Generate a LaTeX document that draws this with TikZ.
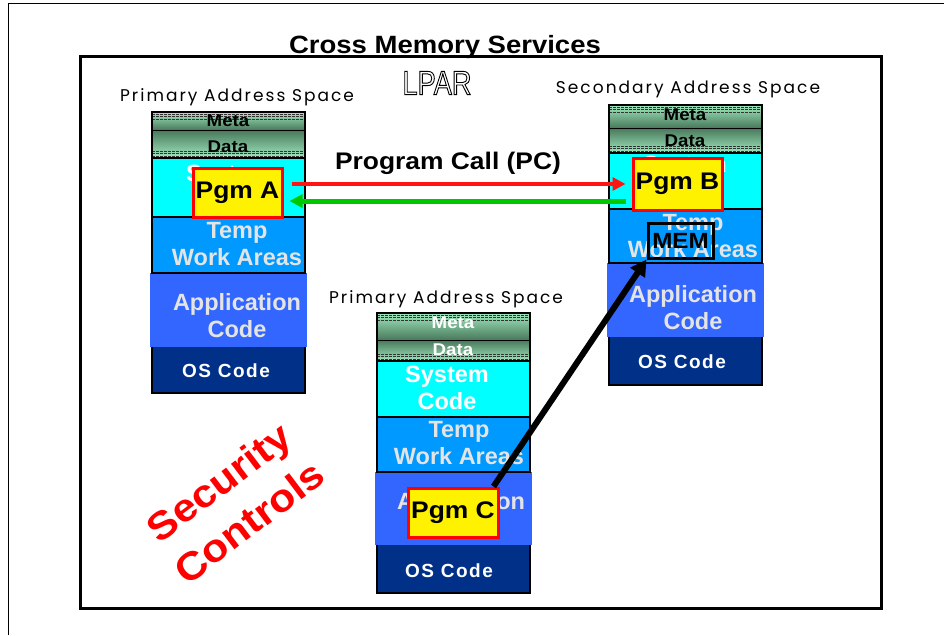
\documentclass[tikz,border=0pt]{standalone}
\usepackage{fontspec}
\setmainfont{Liberation Sans}
\newfontfamily\labelfont[LetterSpace=12]{Poppins}
\newfontfamily\lparfont[FakeStretch=0.8]{Liberation Sans}
\newfontfamily\heavy[FakeStretch=1.1]{Liberation Sans}
\usetikzlibrary{arrows.meta}
\definecolor{mdlight}{RGB}{160,232,190}
\definecolor{mddark}{RGB}{72,120,90}
\definecolor{syscol}{RGB}{0,255,255}
\definecolor{tempcol}{RGB}{0,153,255}
\definecolor{appcol}{RGB}{51,102,255}
\definecolor{oscol}{RGB}{0,48,135}
\definecolor{txtgray}{RGB}{228,228,228}
\definecolor{arrred}{RGB}{255,20,20}
\definecolor{arrgreen}{RGB}{0,200,0}
\newcommand{\addrcol}[9]{%
  % #1 x0, #2 x1, #3 top, #4 meta/data sep, #5 sys top, #6 temp top, #7 app top, #8 os top, #9 bottom
  \shade[top color=mdlight, bottom color=mddark] (#1,#3) rectangle (#2,#4);
  \shade[top color=mddark, bottom color=mdlight] (#1,#4) rectangle (#2,#5);
  \foreach \d in {2,4.5,7}{
    \draw[stripe] ({#1},{#3+\d}) -- ({#2},{#3+\d});
    \draw[stripe] ({#1},{#5-\d}) -- ({#2},{#5-\d});
  }
  \draw[line width=0.8pt] (#1,#4) -- (#2,#4);
  \fill[syscol] (#1,#5) rectangle (#2,#6);
  \fill[tempcol] (#1,#6) rectangle (#2,#7);
  \fill[appcol] ({#1-2},#7) rectangle ({#2+2},#8);
  \fill[oscol] (#1,#8) rectangle (#2,#9);
  \draw[colborder] (#1,#5) -- (#2,#5);
  \draw[colborder] (#1,#6) -- (#2,#6);
  \draw[colborder] (#1,#3) rectangle (#2,#7);
  \draw[colborder] (#1,#8) -- (#1,#9) -- (#2,#9) -- (#2,#8);
}
\newcommand{\outlinetext}[1]{\special{pdf:literal direct 1 Tr 0.9 w}#1\special{pdf:literal direct 0 Tr}}
\begin{document}
\begin{tikzpicture}[x=1pt,y=-1pt,
  stripe/.style={black!80, line width=0.5pt, dash pattern=on 3pt off 1pt},
  colborder/.style={black, line width=1.6pt},
  mdtext/.style={font=\heavy\bfseries\fontsize{17}{17}\selectfont, inner sep=0},
  secttext/.style={font=\bfseries\fontsize{23.5}{27}\selectfont, align=center, inner sep=0},
  ostext/.style={font=\addfontfeatures{LetterSpace=8}\bfseries\fontsize{19}{19}\selectfont, inner sep=0, text=white},
  spacelabel/.style={font=\labelfont\fontsize{17}{17}\selectfont, inner sep=0},
  pgm/.style={draw=red, line width=3pt, fill=yellow, inner sep=0,
    font=\heavy\bfseries\fontsize{24}{24}\selectfont},
  memstyle/.style={draw=black, line width=3pt, inner sep=0,
    font=\heavy\bfseries\fontsize{22}{22}\selectfont},
  pcarrow/.style={line width=4pt, -{Triangle[length=13pt,width=13pt]}},
  memarrow/.style={line width=6pt, -{Triangle[length=16pt,width=17pt]}}
]
\useasboundingbox (0,0) rectangle (944,635);
\fill[white] (0,0) rectangle (944,635);
% outer frame
\draw[line width=1pt] (8,635) -- (8,3.5) -- (944,3.5);
% LPAR frame
\draw[line width=3pt] (80,56) rectangle (881,608);

\node[font=\heavy\bfseries\fontsize{25}{25}\selectfont, inner sep=0, anchor=base] (title) at (445,53) {Cross Memory Services};
\node[font=\lparfont\fontsize{34}{34}\selectfont, inner sep=0] (lpar) at (437,83) {\outlinetext{LPAR}};

% column 1 : primary (top left)
\addrcol{152}{305}{112}{130}{158}{217}{273}{347}{393}
\node[spacelabel] (lab1) at (237,97) {Primary Address Space};
\node[mdtext] (meta1) at (228,121) {Meta};
\node[mdtext] (data1) at (228,147) {Data};
\node[secttext, text=white] (sys1) at (228,187) {System\\Code};
\node[secttext, text=txtgray] (temp1) at (237,244) {Temp\\Work Areas};
\node[secttext, text=txtgray] (app1) at (237,316) {Application\\Code};
\node[ostext] (os1) at (226,371) {OS Code};

% column 2 : secondary
\addrcol{609}{762}{105}{128}{153}{209}{263}{337}{385}
\node[spacelabel] (lab2) at (688,89) {Secondary Address Space};
\node[mdtext] (meta2) at (685,115) {Meta};
\node[mdtext] (data2) at (685,141) {Data};
\node[secttext, text=white] (sys2) at (685,178) {System\\Code};
\node[secttext, text=txtgray] (temp2) at (693,236) {Temp\\Work Areas};
\node[secttext, text=txtgray] (app2) at (693,308) {Application\\Code};
\node[ostext] (os2) at (682,362) {OS Code};

% column 3 : primary (middle)
\addrcol{377}{530}{313}{340}{361}{417}{472}{545}{593}
\node[spacelabel] (lab3) at (446,299) {Primary Address Space};
\node[mdtext, text=white] (meta3) at (453,323) {Meta};
\node[mdtext, text=white] (data3) at (453,350) {Data};
\node[secttext, text=white] (sys3) at (447,388) {System\\Code};
\node[secttext, text=txtgray] (temp3) at (459,443) {Temp\\Work Areas};
\node[secttext, text=txtgray] (app3) at (461,515) {Application\\Code};
\node[ostext] (os3) at (449,571) {OS Code};

% programs
\node[pgm, minimum width=89pt, minimum height=49pt] (pgmA) at (237.5,192.5) {Pgm A};
\node[pgm, minimum width=89pt, minimum height=52pt] (pgmB) at (677.5,184) {Pgm B};
\node[pgm, minimum width=90pt, minimum height=49pt] (pgmC) at (453,512.5) {Pgm C};
\node[memstyle, minimum width=65pt, minimum height=35pt] (mem) at (680.5,240.5) {MEM};

% program call arrows
\node[font=\heavy\bfseries\fontsize{24}{24}\selectfont, inner sep=0] (pc) at (448,163) {Program Call (PC)};
\draw[pcarrow, arrred] ([xshift=8pt,yshift=8.5pt]pgmA.east) -- ([xshift=-6pt]pgmB.west);
\draw[pcarrow, arrgreen, line width=5pt] ([xshift=-6pt,yshift=-17pt]pgmB.west) -- ([xshift=6pt,yshift=-8.5pt]pgmA.east);
\draw[memarrow] ([xshift=-6pt]pgmC.north east) -- (mem.south west);

% security controls
\node[font=\heavy\bfseries\fontsize{39}{50}\selectfont, text=red, align=center, rotate=37, inner sep=0] (sec) at (234,502) {Security\\Controls};
\end{tikzpicture}
\end{document}
